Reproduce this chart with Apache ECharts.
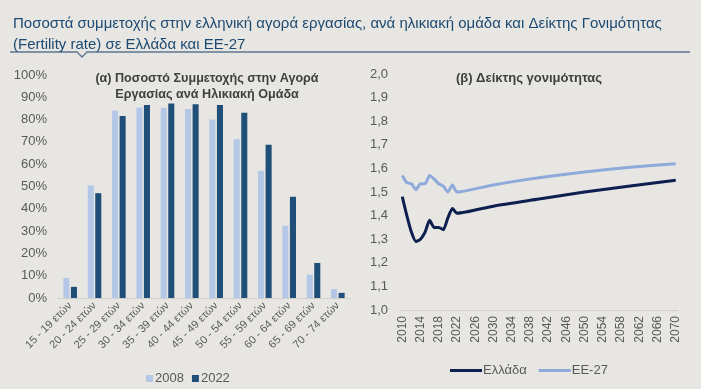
<!DOCTYPE html>
<html><head><meta charset="utf-8">
<script src="https://cdn.jsdelivr.net/npm/echarts@6/dist/echarts.min.js"></script>
<style>html,body{margin:0;padding:0;background:#e7e6e2;}#c{width:701px;height:389px;}</style>
</head><body><div id="c"></div>
<script>
const ageGroups = ['15 - 19 ετών','20 - 24 ετών','25 - 29 ετών','30 - 34 ετών','35 - 39 ετών','40 - 44 ετών','45 - 49 ετών','50 - 54 ετών','55 - 59 ετών','60 - 64 ετών','65 - 69 ετών','70 - 74 ετών'];
const part2008 = [9.0, 50.5, 84.0, 85.4, 85.3, 84.7, 80.0, 71.2, 57.0, 32.4, 10.4, 4.0];
const part2022 = [5.0, 47.0, 81.6, 86.6, 87.2, 86.9, 86.6, 83.1, 68.7, 45.4, 15.7, 2.3];
const years = ['2010','2011','2012','2013','2014','2015','2016','2017','2018','2019','2020','2021','2022','2023','2024','2025','2026','2027','2028','2029','2030','2031','2032','2033','2034','2035','2036','2037','2038','2039','2040','2041','2042','2043','2044','2045','2046','2047','2048','2049','2050','2051','2052','2053','2054','2055','2056','2057','2058','2059','2060','2061','2062','2063','2064','2065','2066','2067','2068','2069','2070'];
const fertYears = ['2010','2011','2012','2013','2014','2015','2016','2017','2018','2019','2020','2021','2022','2030','2040','2050','2060','2070'];
const greece = [1.48, 1.40, 1.33, 1.29, 1.30, 1.33, 1.38, 1.35, 1.35, 1.34, 1.39, 1.43, 1.41, 1.44, 1.47, 1.50, 1.525, 1.55];
const eu27 = [1.57, 1.54, 1.535, 1.51, 1.535, 1.535, 1.57, 1.555, 1.535, 1.525, 1.50, 1.53, 1.50, 1.53, 1.56, 1.585, 1.605, 1.62];

const chart = echarts.init(document.getElementById('c'));
const font = 'Liberation Sans, Arial, sans-serif';
const grey = '#595959';
chart.setOption({
  backgroundColor: '#e7e6e2',
  animation: false,
  textStyle: {fontFamily: font},
  title: [
    {text: 'Ποσοστά συμμετοχής στην ελληνική αγορά εργασίας, ανά ηλικιακή ομάδα και Δείκτης Γονιμότητας\n(Fertility rate) σε Ελλάδα και ΕΕ-27',
     left: 8, top: 8, textStyle: {fontFamily: font, fontSize: 15, fontWeight: 'normal', color: '#1d4a72', lineHeight: 21}},
    {text: '(α) Ποσοστό Συμμετοχής στην Αγορά\nΕργασίας ανά Ηλικιακή Ομάδα', left: 202, top: 66, textAlign: 'center',
     textStyle: {fontFamily: font, fontSize: 12.6, fontWeight: 'bold', color: '#404040', lineHeight: 16, align: 'center'}},
    {text: '(β) Δείκτης γονιμότητας', left: 524, top: 67, textAlign: 'center',
     textStyle: {fontFamily: font, fontSize: 13, fontWeight: 'bold', color: '#404040'}}
  ],
  graphic: [
    {type: 'polyline', shape: {points: [[10,52],[77,52],[82,57],[87,52],[690,52]]}, style: {stroke: '#5f7590', lineWidth: 1.3, fill: null}}
  ],
  legend: [
    {data: ['2008','2022'], left: 141, top: 367, itemWidth: 7, itemHeight: 7, itemGap: 8, icon: 'rect',
     textStyle: {fontFamily: font, fontSize: 13, color: grey, padding: [0,0,0,-3]}},
    {data: ['Ελλάδα','ΕΕ-27'], left: 445, top: 359, itemWidth: 32, itemHeight: 3, itemGap: 12, icon: 'rect',
     textStyle: {fontFamily: font, fontSize: 13, color: grey, padding: [0,0,0,-4]}}
  ],
  grid: [
    {left: 58, right: 351, top: 75, bottom: 91},
    {left: 400, right: 23, top: 74, bottom: 79}
  ],
  xAxis: [
    {type: 'category', gridIndex: 0, data: ageGroups,
     axisLine: {lineStyle: {color: '#d0cfcb'}}, axisTick: {show: false},
     axisLabel: {rotate: 45, fontSize: 11, color: grey, margin: 6, interval: 0}},
    {type: 'category', gridIndex: 1, data: years, boundaryGap: true,
     axisLine: {lineStyle: {color: '#d0cfcb'}}, axisTick: {show: false},
     axisLabel: {rotate: 90, fontSize: 12, color: grey, interval: 3, margin: 6}}
  ],
  yAxis: [
    {type: 'value', gridIndex: 0, min: 0, max: 100, interval: 10,
     axisLine: {show: false}, axisTick: {show: false}, splitLine: {show: false},
     axisLabel: {formatter: '{value}%', fontSize: 13, color: grey, margin: 11}},
    {type: 'value', gridIndex: 1, min: 1, max: 2, interval: 0.1,
     axisLine: {show: false}, axisTick: {show: false}, splitLine: {show: false},
     axisLabel: {formatter: v => v.toFixed(1).replace('.', ','), fontSize: 13, color: grey, margin: 12}}
  ],
  series: [
    {name: '2008', type: 'bar', xAxisIndex: 0, yAxisIndex: 0, data: part2008, barGap: '25%', barCategoryGap: '44%',
     itemStyle: {color: '#b4c7e7'}},
    {name: '2022', type: 'bar', xAxisIndex: 0, yAxisIndex: 0, data: part2022,
     itemStyle: {color: '#1f4e79'}},
    {name: 'ΕΕ-27', type: 'line', xAxisIndex: 1, yAxisIndex: 1, showSymbol: false, smooth: 0.2,
     data: fertYears.map((y, i) => [y, eu27[i]]), lineStyle: {width: 3, color: '#8eaadb', join: 'round'}, itemStyle: {color: '#8eaadb'}},
    {name: 'Ελλάδα', type: 'line', xAxisIndex: 1, yAxisIndex: 1, showSymbol: false, smooth: 0.2,
     data: fertYears.map((y, i) => [y, greece[i]]), lineStyle: {width: 3, color: '#0c1f4f', join: 'round'}, itemStyle: {color: '#0c1f4f'}}
  ]
});
</script></body></html>
